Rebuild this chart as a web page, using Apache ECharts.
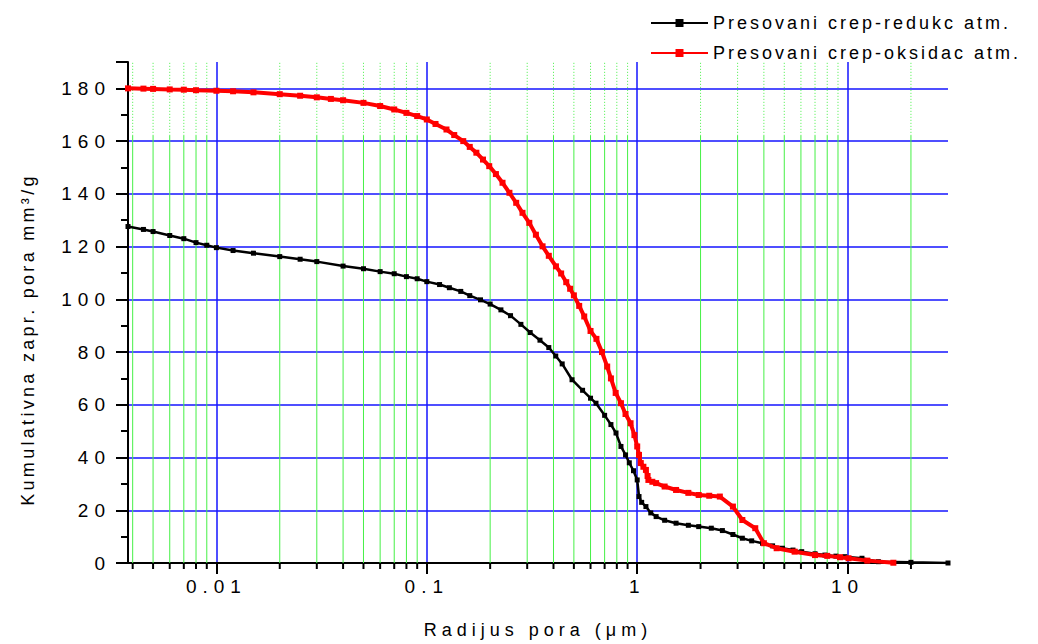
<!DOCTYPE html>
<html>
<head>
<meta charset="utf-8">
<script src="https://cdn.jsdelivr.net/npm/echarts@6/dist/echarts.min.js"></script>
<style>
  html, body { margin: 0; padding: 0; background: #fff; }
  #chart { width: 1038px; height: 644px; }
  #chart text { letter-spacing: 6px; }
</style>
</head>
<body>
<div id="chart"></div>
<script>
// radijus pora (um) -> kumulativna zapremina (mm3/g), ocitano sa grafika
const redukcX = [0.0038, 0.0045, 0.005, 0.006, 0.007, 0.008, 0.009, 0.01, 0.012, 0.015, 0.02, 0.025, 0.03, 0.04, 0.05, 0.06, 0.07, 0.08, 0.09, 0.1,
  0.115, 0.128, 0.145, 0.16, 0.18, 0.2, 0.225, 0.25, 0.28, 0.31, 0.345, 0.38, 0.41, 0.44, 0.49, 0.55, 0.6, 0.637, 0.7, 0.75, 0.793, 0.837, 0.88, 0.917, 0.96,
  1.0, 1.02, 1.05, 1.1, 1.16, 1.23, 1.35, 1.53, 1.75, 1.96, 2.25, 2.54, 2.85, 3.16, 3.5, 3.94, 4.4, 4.9, 5.5, 6.05, 7.0, 7.8, 8.8, 9.7, 11.7, 14, 20, 30]
const redukcY = [127.6, 126.5, 125.7, 124.2, 123.0, 121.5, 120.5, 119.6, 118.5, 117.5, 116.2, 115.2, 114.3, 112.6, 111.6, 110.5, 109.7, 108.6, 107.8, 106.7,
  105.6, 104.4, 103.0, 101.4, 99.8, 98.2, 96.0, 93.8, 90.5, 87.4, 84.5, 81.7, 78.5, 75.5, 69.5, 65.5, 62.5, 60.6, 56.0, 52.5, 49.3, 44.2, 41.0, 38.0, 35.0,
  31.5, 25.2, 23.0, 21.4, 19.0, 17.6, 16.2, 15.1, 14.3, 13.8, 13.2, 12.3, 10.8, 9.4, 8.4, 7.5, 6.5, 5.6, 4.9, 4.3, 3.5, 3.0, 2.6, 2.4, 1.8, 0.5, 0.25, 0]

const oksidacX = [0.0038, 0.0045, 0.005, 0.006, 0.007, 0.008, 0.01, 0.012, 0.015, 0.02, 0.025, 0.03, 0.035, 0.04, 0.05, 0.06, 0.07, 0.08, 0.09, 0.1,
  0.11, 0.124, 0.135, 0.149, 0.16, 0.172, 0.185, 0.198, 0.213, 0.229, 0.247, 0.266, 0.285, 0.307, 0.33, 0.355, 0.38, 0.411, 0.435, 0.46, 0.48, 0.5,
  0.53, 0.56, 0.6, 0.64, 0.68, 0.72, 0.75, 0.79, 0.837, 0.88, 0.93, 0.97, 1.0, 1.02, 1.04, 1.07, 1.1, 1.12, 1.13, 1.18, 1.23, 1.35, 1.53, 1.75, 1.96,
  2.2, 2.47, 2.85, 3.16, 3.64, 4.0, 4.6, 5.6, 7.0, 8.0, 9.2, 10.1, 12.4, 16.5]
const oksidacY = [180.0, 179.9, 179.8, 179.6, 179.5, 179.3, 179.1, 178.9, 178.5, 177.8, 177.2, 176.6, 176.0, 175.5, 174.5, 173.3, 172.0, 170.7, 169.5, 168.2,
  166.5, 164.4, 162.3, 160.0, 157.8, 155.6, 153.0, 150.5, 147.5, 144.2, 140.4, 136.6, 132.8, 129.0, 124.5, 120.1, 116.5, 112.5, 109.8, 106.5, 104.0, 101.5,
  97.5, 93.5, 88.0, 85.0, 80.0, 74.5, 70.0, 64.5, 60.6, 56.5, 53.0, 48.5, 44.2, 41.0, 37.9, 36.5, 35.3, 33.0, 31.5, 30.8, 30.3, 29.0, 27.7, 26.6, 25.8,
  25.5, 25.2, 21.4, 16.3, 13.2, 7.5, 5.6, 4.3, 3.0, 2.7, 2.2, 1.8, 0.9, 0.1]

// zelene pomocne linije na 2..9 u svakoj dekadi
const minorX = [0.004, 0.005, 0.006, 0.007, 0.008, 0.009,
  0.02, 0.03, 0.04, 0.05, 0.06, 0.07, 0.08, 0.09,
  0.2, 0.3, 0.4, 0.5, 0.6, 0.7, 0.8, 0.9,
  2, 3, 4, 5, 6, 7, 8, 9, 20]

const names = ['Presovani crep-redukc atm.', 'Presovani crep-oksidac atm.']
const xMin = 0.0038, xMax = 30
const yMax = 190
const solidTop = 162 // iznad ovoga su zelene linije tackaste
const green = '#45f045'
const blue = '#1515ff'
const font = "'Liberation Sans', Arial, sans-serif"

const zip = (xs, ys) => xs.map((x, i) => [x, ys[i]])

const myChart = echarts.init(document.getElementById('chart'), null, { renderer: 'svg' })

const option = {
  animation: false,
  backgroundColor: '#fff',
  textStyle: { fontFamily: font, color: '#000' },
  grid: { left: 128, right: 90, top: 62, bottom: 81, containLabel: false, outerBoundsMode: 'none' },
  legend: {
    data: names,
    orient: 'vertical',
    left: 650,
    top: 14,
    itemWidth: 57,
    itemHeight: 10,
    itemGap: 12,
    padding: 0,
    textStyle: { fontSize: 18, fontFamily: font, color: '#000' }
  },
  xAxis: {
    type: 'log',
    min: xMin,
    max: xMax,
    name: 'Radijus pora (\u03bcm)',
    nameLocation: 'middle',
    nameGap: 58,
    nameTextStyle: { fontSize: 18, fontFamily: font, color: '#000' },
    axisLine: { lineStyle: { color: '#000', width: 2 } },
    axisTick: { show: true, length: 11, lineStyle: { color: '#000', width: 2 } },
    axisLabel: { fontSize: 19, margin: 14, color: '#000', showMinLabel: false, showMaxLabel: false },
    splitLine: { show: true, showMinLine: false, showMaxLine: false, lineStyle: { color: blue, width: 1.5 } }
  },
  yAxis: {
    type: 'value',
    min: 0,
    max: yMax,
    interval: 20,
    name: 'Kumulativna zapr. pora mm\u00b3/g',
    nameLocation: 'middle',
    nameGap: 91,
    nameTextStyle: { fontSize: 18, fontFamily: font, color: '#000', padding: [0, 54, 0, 0] },
    axisLine: { show: true, lineStyle: { color: '#000', width: 2 } },
    axisTick: { show: true, length: 12, lineStyle: { color: '#000', width: 2 } },
    minorTick: { show: true, splitNumber: 2, length: 7, lineStyle: { color: '#000', width: 2 } },
    axisLabel: { fontSize: 19, margin: 17, color: '#000', showMaxLabel: false },
    splitLine: { show: true, showMinLine: false, showMaxLine: false, lineStyle: { color: blue, width: 1.5 } }
  },
  series: [
    {
      type: 'custom',
      silent: true,
      z: 1,
      data: minorX.map(v => [v, 0]),
      renderItem: function (params, api) {
        const x = api.value(0)
        const p0 = api.coord([x, 0])
        const p1 = api.coord([x, solidTop])
        const p2 = api.coord([x, yMax])
        return {
          type: 'group',
          children: [
            { type: 'line', shape: { x1: p0[0], y1: p0[1], x2: p1[0], y2: p1[1] }, style: { stroke: green, lineWidth: 1 } },
            { type: 'line', shape: { x1: p1[0], y1: p1[1], x2: p2[0], y2: p2[1] }, style: { stroke: green, lineWidth: 1, lineDash: [1, 2] } },
            { type: 'line', shape: { x1: p0[0], y1: p0[1], x2: p0[0], y2: p0[1] + 6 }, style: { stroke: '#000', lineWidth: 2 } }
          ]
        }
      }
    },
    {
      name: names[0],
      type: 'line',
      z: 3,
      data: zip(redukcX, redukcY),
      symbol: 'rect',
      symbolSize: 5,
      color: '#000',
      lineStyle: { color: '#000', width: 2.5 },
      itemStyle: { color: '#000' }
    },
    {
      name: names[1],
      type: 'line',
      z: 4,
      data: zip(oksidacX, oksidacY),
      symbol: 'rect',
      symbolSize: 6,
      color: '#ff0000',
      lineStyle: { color: '#ff0000', width: 4 },
      itemStyle: { color: '#ff0000' }
    }
  ]
}

// razmak izmedju slova kao u originalu
function spaceText() {
  document.querySelectorAll('#chart text').forEach(t => {
    const s = t.textContent
    let ls = 6
    if (s.indexOf('Presovani') === 0) ls = 3
    else if (s.indexOf('Radijus') === 0) ls = 5
    else if (s.indexOf('Kumulativna') === 0) ls = 3.3
    t.style.letterSpacing = ls + 'px'
  })
}

myChart.on('finished', spaceText)
myChart.setOption(option)
window.addEventListener('resize', () => myChart.resize())
</script>
</body>
</html>
